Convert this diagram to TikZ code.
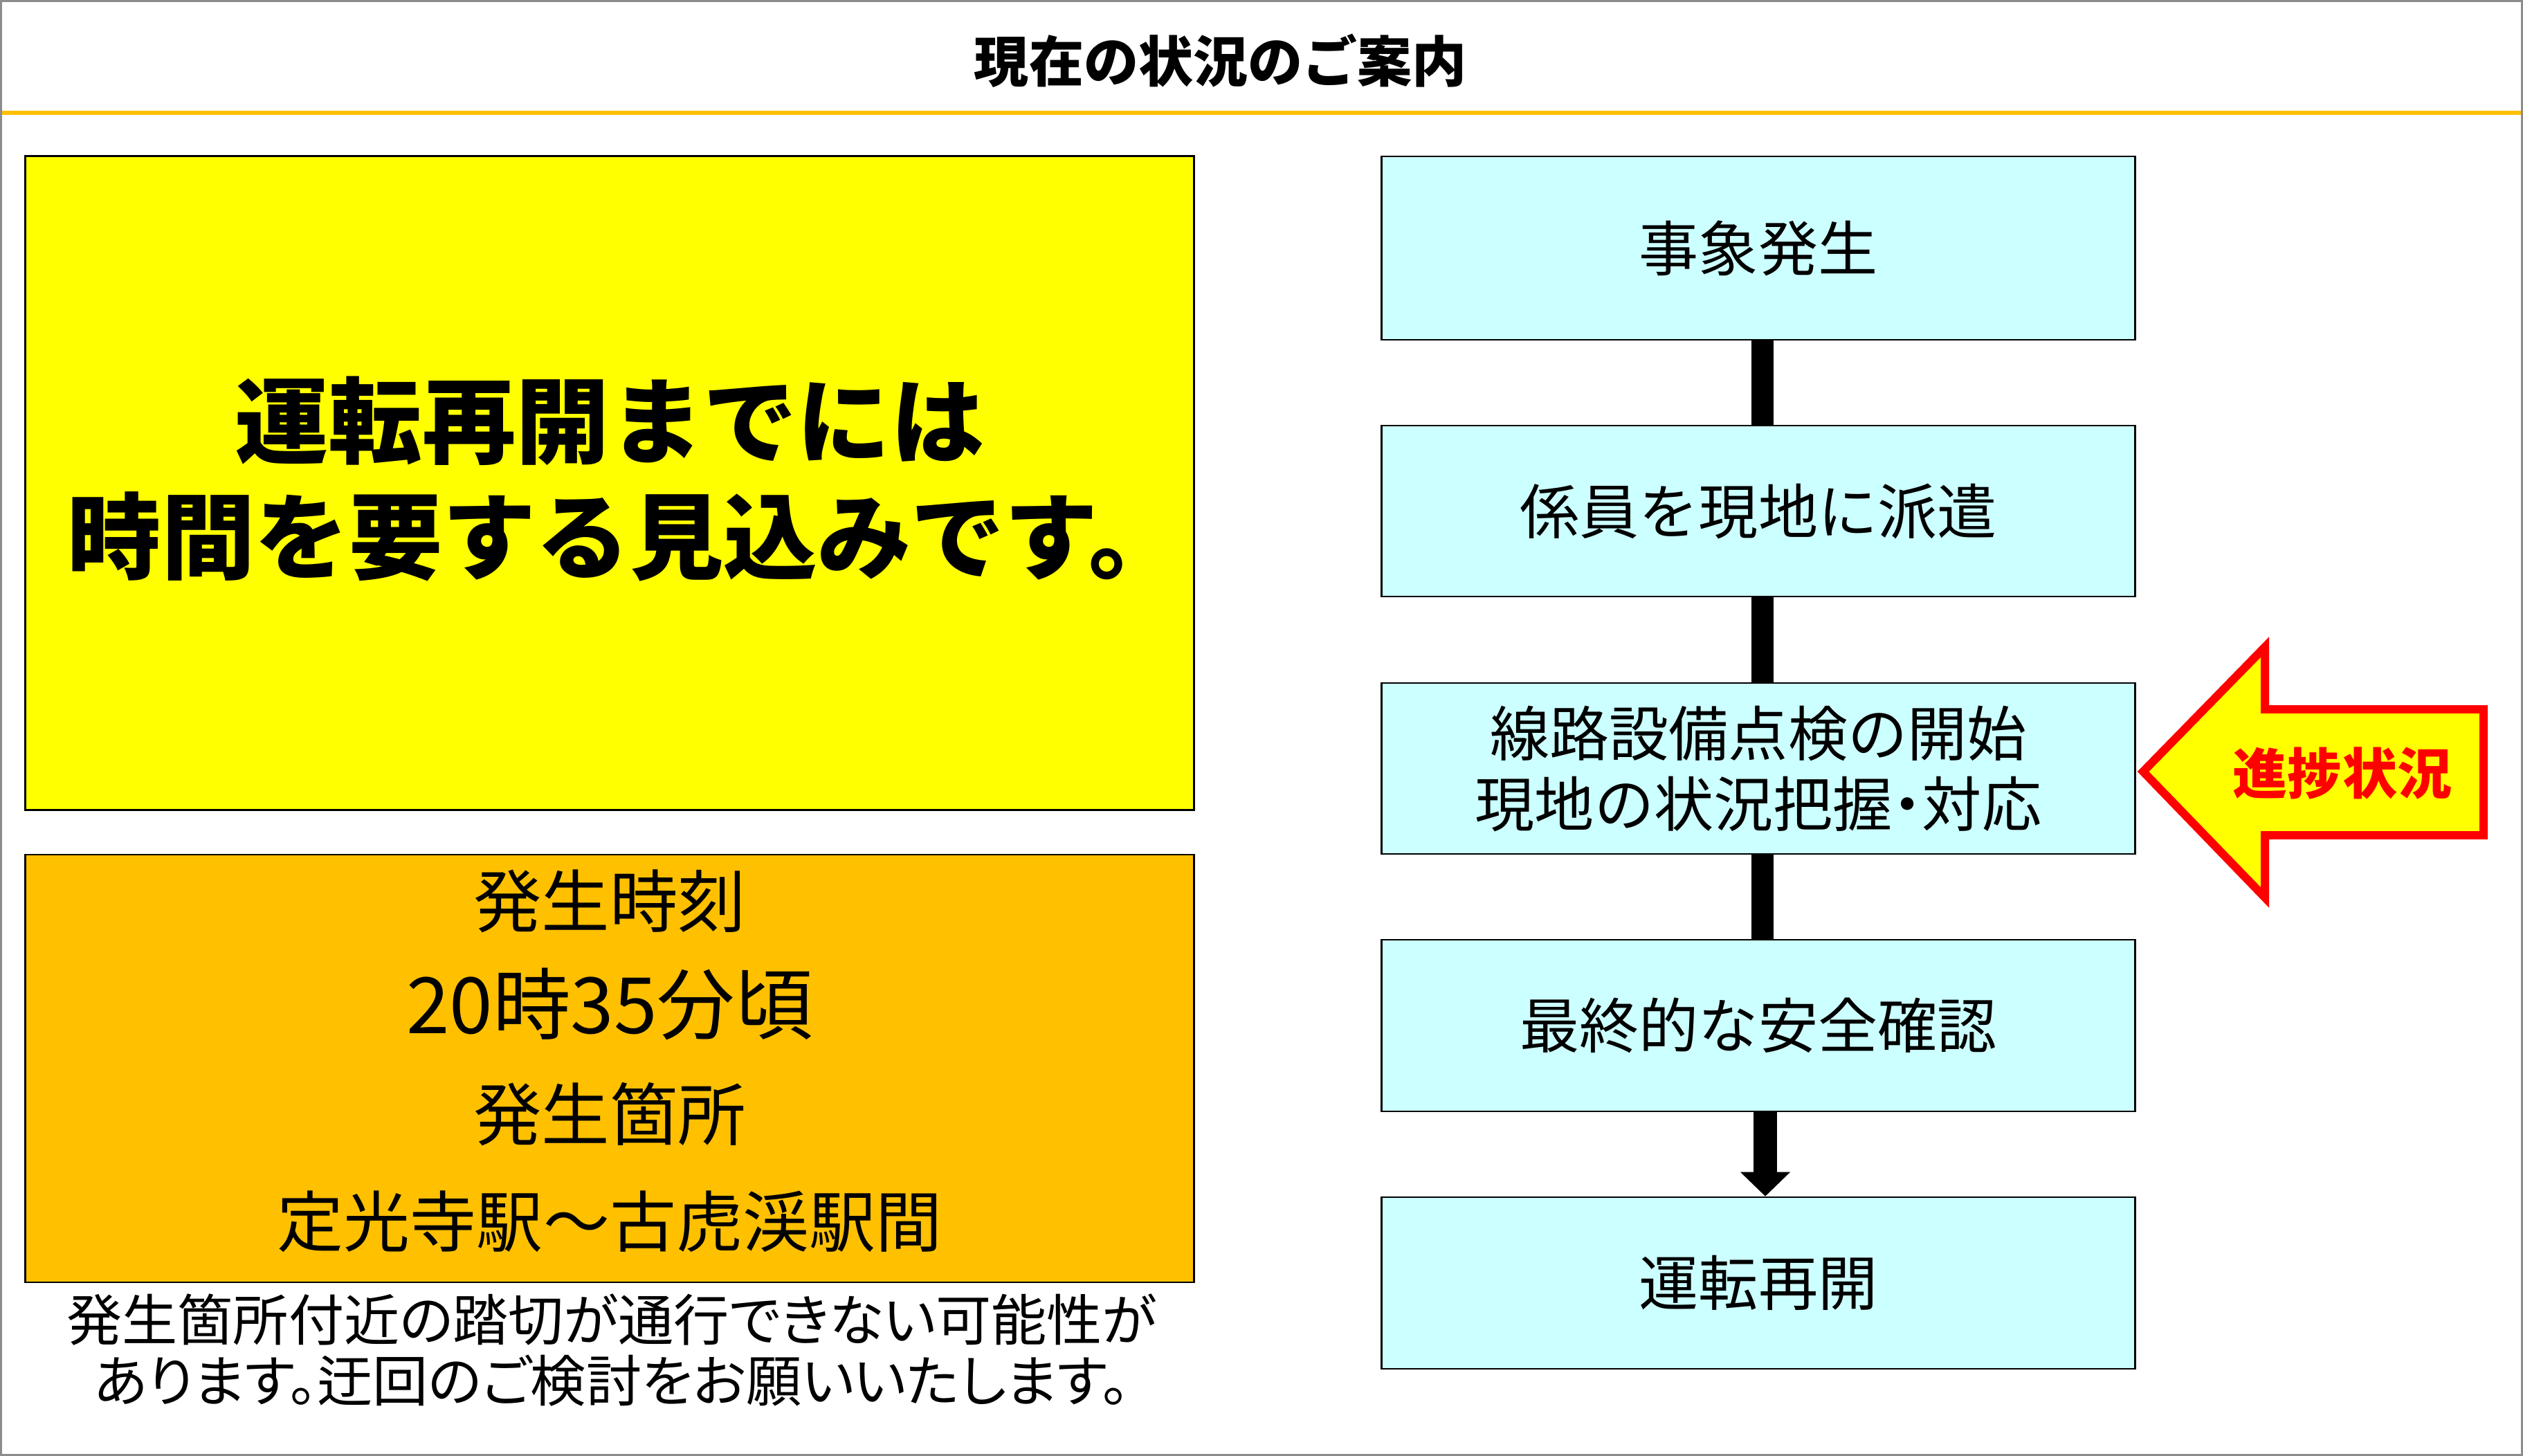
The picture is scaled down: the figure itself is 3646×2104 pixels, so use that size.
\documentclass[tikz,border=0pt]{standalone}
\usepackage{fontspec}
\setmainfont{Noto Sans CJK JP}
\newfontfamily\jpp[RawFeature=+palt]{Noto Sans CJK JP}
\usetikzlibrary{arrows.meta}
\definecolor{cyanbox}{HTML}{CCFFFF}
\definecolor{orangebox}{HTML}{FFC000}
\definecolor{yellowbox}{HTML}{FFFF00}
\definecolor{redline}{HTML}{FF0000}
\definecolor{framegray}{HTML}{8C8C8C}
\begin{document}
\begin{tikzpicture}[x=0.01cm,y=-0.01cm,
  stepbox/.style={draw=black, line width=0.7pt, fill=cyanbox, minimum width=10.88cm,
     inner sep=0pt, align=center, font=\fontsize{24.5}{29}\selectfont},
  conn/.style={draw=black, line width=9pt},
  connarrow/.style={draw=black, line width=9.6pt, -{Triangle[width=20pt,length=10pt]}}
]
\useasboundingbox (0,0) rectangle (3646,2104);
\fill[white] (0,0) rectangle (3646,2104);
% frame and header
\draw[framegray, line width=0.8pt] (1.5,1.5) rectangle (3644.5,2102.5);
\coordinate (hl) at (3,163);
\coordinate (hr) at (3643,163);
\draw[orangebox, line width=1.7pt] (hl) -- (hr);
\node[font=\fontsize{22.5}{26}\bfseries] (title) at (1764,88) {現在の状況のご案内};

% left column
\node[draw=black, line width=0.7pt, fill=yellowbox, minimum width=16.88cm, minimum height=9.44cm,
      inner sep=0pt] (msg) at (881,698) {};
\node[align=center, inner sep=0pt, font=\fontsize{38.5}{47.5}\bfseries] (msgtext) at (881,692)
  {運転再開までには\\\hspace*{0.45cm}時間を要する見込みです。};
\node[draw=black, line width=0.7pt, fill=orangebox, minimum width=16.88cm, minimum height=6.18cm,
      inner sep=0pt] (info) at (881,1544) {};
\node[align=center, inner sep=0pt, font=\fontsize{28}{43.8}\selectfont] (infotext) at (881,1533)
  {発生時刻\\{\fontsize{32}{43.8}\selectfont 20時35分頃}\\発生箇所\\{\fontsize{27.3}{43.8}\selectfont 定光寺駅～古虎渓駅間}};
\node[align=center, inner sep=0pt, font=\jpp\fontsize{22.8}{25}\selectfont] (note) at (884,1951)
  {発生箇所付近の踏切が通行できない可能性が\\あります。迂回のご検討をお願いいたします。};

% flow
\node[stepbox, minimum height=2.65cm] (s1) at (2541,358.5) {事象発生};
\node[stepbox, minimum height=2.47cm] (s2) at (2541,738.5) {係員を現地に派遣};
\node[stepbox, minimum height=2.47cm] (s3) at (2541,1110.5) {線路設備点検の開始\\現地の状況把握{\jpp ・}対応};
\node[stepbox, minimum height=2.48cm] (s4) at (2541,1482) {最終的な安全確認};
\node[stepbox, minimum height=2.48cm] (s5) at (2541,1854) {運転再開};

\draw[conn] ([xshift=0.06cm]s1.south) -- ([xshift=0.06cm]s2.north);
\draw[conn] ([xshift=0.06cm]s2.south) -- ([xshift=0.06cm]s3.north);
\draw[conn] ([xshift=0.06cm]s3.south) -- ([xshift=0.06cm]s4.north);
\draw[connarrow] ([xshift=0.1cm]s4.south) -- ([xshift=0.1cm]s5.north);

% progress arrow
\draw[redline, fill=yellowbox, line width=3.4pt, miter limit=10]
  (3097,1115) -- (3273,935) -- (3273,1025) -- (3589,1025) -- (3589,1207)
  -- (3273,1207) -- (3273,1297) -- cycle;
\node[text=redline, font=\fontsize{22.5}{26}\bfseries] (prog) at (3385,1117) {進捗状況};
\end{tikzpicture}
\end{document}
